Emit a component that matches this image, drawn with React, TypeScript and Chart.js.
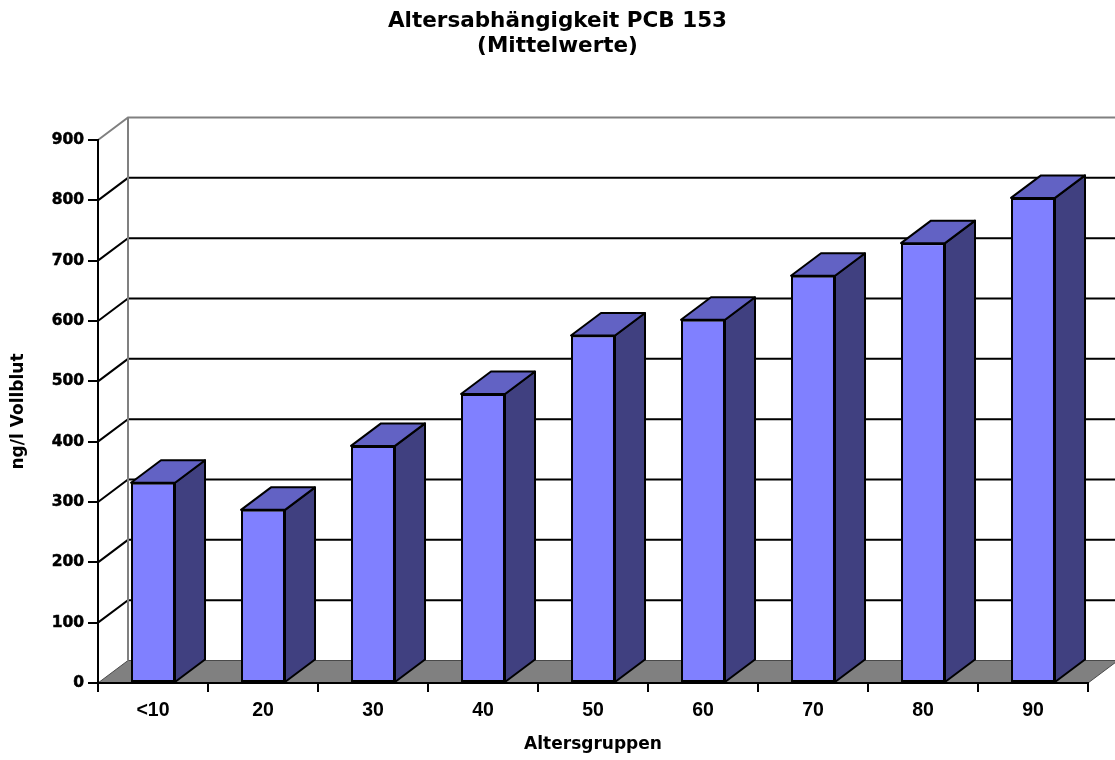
import { useEffect, useRef } from 'react';
import { Chart, registerables } from 'chart.js';

Chart.register(...registerables);

// Age groups and mean PCB 153 concentration (ng/l whole blood)
const ageGroups = ['<10', '20', '30', '40', '50', '60', '70', '80', '90'];
const meanPcb153 = [332, 287, 393, 479, 576, 602, 675, 729, 804];

// Value axis range
const yMin = 0;
const yMax = 900;
const yStep = 100;

const chartTitle = ['Altersabhängigkeit PCB 153', '(Mittelwerte)'];
const yAxisTitle = 'ng/l Vollblut';
const xAxisTitle = 'Altersgruppen';

// Pseudo-3D depth offset for walls, floor and columns
const DEPTH_X = 30;
const DEPTH_Y = 22.5;

const WIDE_FONT = '"DejaVu Sans", "Liberation Sans", Arial, sans-serif';
const ARIAL_FONT = '"Liberation Sans", Arial, sans-serif';

const FRONT_COLOR = '#8080FF';
const TOP_COLOR = '#6262C4';
const SIDE_COLOR = '#404080';
const FLOOR_COLOR = '#808080';

const threeDPlugin = {
  id: 'threeD',
  beforeDraw(chart: any) {
    const { ctx, chartArea } = chart;
    const { left, right, top, bottom } = chartArea;
    const yScale = chart.scales.y;
    ctx.save();
    ctx.lineCap = 'butt';
    ctx.lineJoin = 'miter';

    // floor
    ctx.beginPath();
    ctx.moveTo(left, bottom);
    ctx.lineTo(right, bottom);
    ctx.lineTo(right + DEPTH_X, bottom - DEPTH_Y);
    ctx.lineTo(left + DEPTH_X, bottom - DEPTH_Y);
    ctx.closePath();
    ctx.fillStyle = FLOOR_COLOR;
    ctx.fill();
    ctx.strokeStyle = '#4a4a4a';
    ctx.lineWidth = 1;
    ctx.stroke();

    // side wall + back wall gridlines
    yScale.ticks.forEach((t: any) => {
      if (t.value === yMin) return;
      const py = yScale.getPixelForValue(t.value);
      ctx.beginPath();
      ctx.moveTo(left, py);
      ctx.lineTo(left + DEPTH_X, py - DEPTH_Y);
      ctx.lineTo(right + DEPTH_X + 4, py - DEPTH_Y);
      ctx.strokeStyle = t.value === yMax ? '#808080' : '#000000';
      ctx.lineWidth = 2;
      ctx.stroke();
    });

    // back wall left edge
    ctx.beginPath();
    ctx.moveTo(left + DEPTH_X, top - DEPTH_Y);
    ctx.lineTo(left + DEPTH_X, bottom - DEPTH_Y);
    ctx.strokeStyle = '#808080';
    ctx.lineWidth = 2;
    ctx.stroke();
    ctx.restore();
  },
  afterDatasetsDraw(chart: any) {
    const { ctx } = chart;
    const meta = chart.getDatasetMeta(0);
    ctx.save();
    ctx.lineWidth = 2;
    ctx.lineJoin = 'round';
    ctx.strokeStyle = '#000000';
    meta.data.forEach((bar: any) => {
      const { x, y, base, width } = bar.getProps(['x', 'y', 'base', 'width'], true);
      const l = x - width / 2;
      const r = x + width / 2;

      // right side face
      ctx.beginPath();
      ctx.moveTo(r, y);
      ctx.lineTo(r + DEPTH_X, y - DEPTH_Y);
      ctx.lineTo(r + DEPTH_X, base - DEPTH_Y);
      ctx.lineTo(r, base);
      ctx.closePath();
      ctx.fillStyle = SIDE_COLOR;
      ctx.fill();
      ctx.stroke();

      // top face
      ctx.beginPath();
      ctx.moveTo(l, y);
      ctx.lineTo(r, y);
      ctx.lineTo(r + DEPTH_X, y - DEPTH_Y);
      ctx.lineTo(l + DEPTH_X, y - DEPTH_Y);
      ctx.closePath();
      ctx.fillStyle = TOP_COLOR;
      ctx.fill();
      ctx.stroke();
    });
    ctx.restore();
  },
};

export default function App() {
  const canvasRef = useRef<HTMLCanvasElement | null>(null);

  useEffect(() => {
    if (!canvasRef.current) return;
    const chart = new Chart(canvasRef.current, {
      type: 'bar',
      data: {
        labels: ageGroups,
        datasets: [
          {
            data: meanPcb153,
            backgroundColor: FRONT_COLOR,
            borderColor: '#000000',
            borderWidth: 2,
            borderSkipped: false,
            categoryPercentage: 1,
            barPercentage: 0.4,
          },
        ],
      },
      options: {
        responsive: false,
        animation: false,
        devicePixelRatio: 1,
        layout: { padding: 0 },
        plugins: {
          legend: { display: false },
          tooltip: { enabled: false },
          title: {
            display: true,
            text: chartTitle,
            color: '#000000',
            font: { family: WIDE_FONT, size: 21.5, weight: 'bold', lineHeight: 25 / 21.5 },
            padding: { top: 9, bottom: 81 },
          },
        },
        scales: {
          x: {
            offset: true,
            grid: {
              display: true,
              offset: true,
              drawOnChartArea: false,
              drawTicks: true,
              tickLength: 9,
              color: '#000000',
              lineWidth: 2,
            },
            border: { display: true, color: '#000000', width: 2 },
            ticks: {
              color: '#000000',
              font: { family: ARIAL_FONT, size: 19.5, weight: 'bold' },
              padding: 7,
              maxRotation: 0,
            },
            title: {
              display: true,
              text: xAxisTitle,
              color: '#000000',
              font: { family: WIDE_FONT, size: 17, weight: 'bold' },
              padding: { top: 0, bottom: 5 },
            },
            afterFit(scale: any) {
              scale.height = 77;
            },
          },
          y: {
            min: yMin,
            max: yMax,
            grid: {
              display: true,
              drawOnChartArea: false,
              drawTicks: true,
              tickLength: 10,
              color: '#000000',
              lineWidth: 2,
            },
            border: { display: true, color: '#000000', width: 2 },
            ticks: {
              stepSize: yStep,
              color: '#000000',
              font: { family: WIDE_FONT, size: 15.5, weight: 'bold' },
              textStrokeColor: '#000000',
              textStrokeWidth: 0.5,
              padding: 4,
            },
            title: {
              display: true,
              text: yAxisTitle,
              color: '#000000',
              font: { family: WIDE_FONT, size: 17, weight: 'bold' },
              padding: { top: 8, bottom: 0 },
            },
            afterFit(scale: any) {
              scale.width = 98;
            },
          },
          // empty right-hand band that holds the depth of the back wall
          depth: {
            type: 'linear',
            position: 'right',
            display: true,
            grid: { display: false },
            border: { display: false },
            ticks: { display: false },
            afterFit(scale: any) {
              scale.width = 27;
            },
          },
        },
      },
      plugins: [threeDPlugin],
    } as any);
    return () => chart.destroy();
  }, []);

  return (
    <div
      style={{
        position: 'fixed',
        left: 0,
        top: 0,
        width: 1115,
        height: 760,
        background: '#ffffff',
      }}
    >
      <canvas ref={canvasRef} width={1115} height={760} style={{ display: 'block' }} />
    </div>
  );
}
